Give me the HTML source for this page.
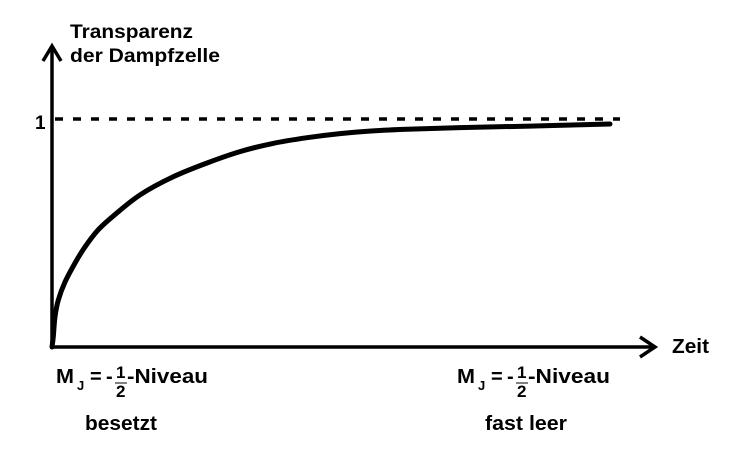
<!DOCTYPE html>
<html><head><meta charset="utf-8"><style>
body{margin:0;background:#fff}
svg{display:block;font-family:"Liberation Sans",sans-serif;font-weight:bold}
</style></head><body>
<svg width="730" height="455">
<g id="axes">
<line x1="52" y1="347" x2="52" y2="47" stroke="#000" stroke-width="3.5"/>
<polyline points="43,61 52,46 61,61" fill="none" stroke="#000" stroke-width="3.5"/>
<line x1="50" y1="347" x2="653" y2="347" stroke="#000" stroke-width="3.5"/>
<polyline points="640,337 655,347 640,357" fill="none" stroke="#000" stroke-width="3.5"/>
<line x1="55" y1="119" x2="620" y2="119" stroke="#000" stroke-width="3.5" stroke-dasharray="8,10"/>
</g>
<text x="70" y="38" font-size="19" textLength="123" lengthAdjust="spacingAndGlyphs">Transparenz</text>
<text x="70" y="62" font-size="19" textLength="150" lengthAdjust="spacingAndGlyphs">der Dampfzelle</text>
<text x="35" y="129" font-size="19">1</text>
<text x="672" y="353" font-size="20" textLength="37" lengthAdjust="spacingAndGlyphs">Zeit</text>
<g>
<text x="56" y="383" font-size="20" textLength="18" lengthAdjust="spacingAndGlyphs">M</text><text x="77" y="390" font-size="13">J</text>
<text x="90" y="383" font-size="20">=</text><text x="106" y="383" font-size="20">-</text>
<text x="116" y="378" font-size="17">1</text>
<line x1="115" y1="383" x2="127" y2="383" stroke="#000" stroke-width="1"/>
<text x="116" y="397" font-size="17">2</text>
<text x="127" y="383" font-size="20" textLength="81" lengthAdjust="spacingAndGlyphs">-Niveau</text>
</g>
<text x="85" y="430" font-size="20" textLength="72" lengthAdjust="spacingAndGlyphs">besetzt</text>
<g>
<text x="457" y="383" font-size="20" textLength="18" lengthAdjust="spacingAndGlyphs">M</text><text x="478" y="390" font-size="13">J</text>
<text x="491" y="383" font-size="20">=</text><text x="507" y="383" font-size="20">-</text>
<text x="517" y="378" font-size="17">1</text>
<line x1="516" y1="383" x2="528" y2="383" stroke="#000" stroke-width="1"/>
<text x="517" y="397" font-size="17">2</text>
<text x="528" y="383" font-size="20" textLength="82" lengthAdjust="spacingAndGlyphs">-Niveau</text>
</g>
<text x="485" y="430" font-size="20" textLength="82" lengthAdjust="spacingAndGlyphs">fast leer</text>
<path id="curve" fill="none" stroke="#000" stroke-width="5" stroke-linecap="round"/>
</svg>
<script>
const times=[0,0.023,0.054,0.113,0.233,0.412,0.591,0.824,1.1,1.577,2.168,2.778,3.369,3.961,4.57,5.161,5.753,6.362,7.312,8.566,10];
const transparency=[0,0.045,0.133,0.206,0.285,0.368,0.439,0.513,0.575,0.667,0.746,0.807,0.857,0.893,0.918,0.936,0.948,0.955,0.962,0.969,0.978];
const xScale=t=>52+t*55.8;
const yScale=v=>347-v*228;
const pts=times.map((t,i)=>[xScale(t),yScale(transparency[i])]);
let d="M"+pts[0][0]+","+pts[0][1];
for(let i=0;i<pts.length-1;i++){
  const p0=pts[Math.max(0,i-1)],p1=pts[i],p2=pts[i+1],p3=pts[Math.min(pts.length-1,i+2)];
  const c1=[p1[0]+(p2[0]-p0[0])/6,p1[1]+(p2[1]-p0[1])/6];
  const c2=[p2[0]-(p3[0]-p1[0])/6,p2[1]-(p3[1]-p1[1])/6];
  d+=" C"+c1[0]+","+c1[1]+" "+c2[0]+","+c2[1]+" "+p2[0]+","+p2[1];
}
document.getElementById('curve').setAttribute('d',d);
</script>
</body></html>
